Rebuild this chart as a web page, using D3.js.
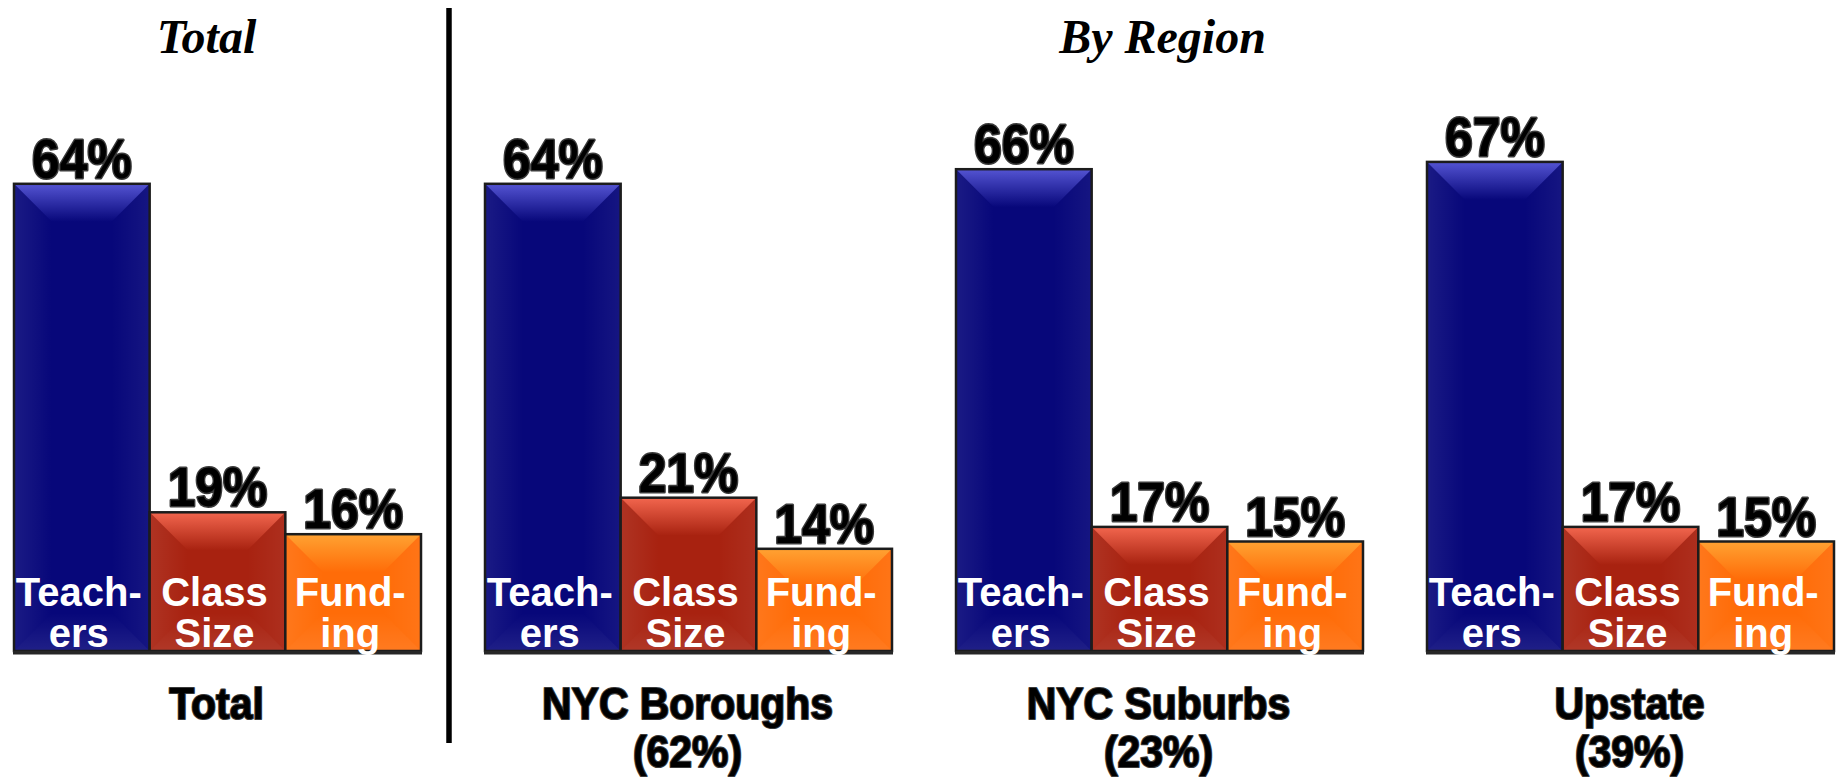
<!DOCTYPE html>
<html>
<head>
<meta charset="utf-8">
<script src="https://cdn.jsdelivr.net/npm/d3@7"></script>
<style>
  html, body { margin: 0; padding: 0; background: #ffffff; }
  svg { display: block; }
</style>
</head>
<body>
<svg id="chart" width="1837" height="777"></svg>
<script>
// ---- data ----
const groups = ["Total", "NYC Boroughs", "NYC Suburbs", "Upstate"];
const groupShares = ["", "(62%)", "(23%)", "(39%)"];
const categories = ["Teachers", "Class Size", "Funding"];
const categoryLines = [["Teach-", "ers"], ["Class", "Size"], ["Fund-", "ing"]];
const teachers = [64, 64, 66, 67];
const classSize = [19, 21, 17, 17];
const funding = [16, 14, 15, 15];
const sectionTitles = ["Total", "By Region"];

const seriesValues = [teachers, classSize, funding];
const baseColors = ["#07077a", "#a82210", "#ff6c08"];
const lightColors = ["#5454d2", "#f2664e", "#ffa232"];

const svg = d3.select("#chart");
const defs = svg.append("defs");

// ---- scales ----
const x0 = d3.scaleBand().domain(groups).range([14, 1834]).paddingInner(64 / 471).paddingOuter(0);
const x1 = d3.scaleBand().domain(categories).range([0, x0.bandwidth()]).padding(0);
const y = d3.scaleLinear().domain([0, 100]).range([651, -79]);

// ---- gradients ----
categories.forEach((c, i) => {
  const g = defs.append("linearGradient").attr("id", "top" + i)
    .attr("x1", 0).attr("y1", 0).attr("x2", 0).attr("y2", 1);
  g.append("stop").attr("offset", "0%").attr("stop-color", lightColors[i]);
  g.append("stop").attr("offset", "100%").attr("stop-color", baseColors[i]);
});
const lg = defs.append("linearGradient").attr("id", "leftG").attr("x1", 0).attr("y1", 0).attr("x2", 1).attr("y2", 0);
lg.append("stop").attr("offset", "0%").attr("stop-color", "#fff").attr("stop-opacity", 0.08);
lg.append("stop").attr("offset", "100%").attr("stop-color", "#fff").attr("stop-opacity", 0);
const rg = defs.append("linearGradient").attr("id", "rightG").attr("x1", 0).attr("y1", 0).attr("x2", 1).attr("y2", 0);
rg.append("stop").attr("offset", "0%").attr("stop-color", "#fff").attr("stop-opacity", 0);
rg.append("stop").attr("offset", "100%").attr("stop-color", "#fff").attr("stop-opacity", 0.06);
const bg = defs.append("linearGradient").attr("id", "botG").attr("x1", 0).attr("y1", 0).attr("x2", 0).attr("y2", 1);
bg.append("stop").attr("offset", "0%").attr("stop-color", "#fff").attr("stop-opacity", 0);
bg.append("stop").attr("offset", "100%").attr("stop-color", "#fff").attr("stop-opacity", 0.10);

// ---- bars ----
const barData = [];
groups.forEach((g, gi) => {
  categories.forEach((c, ci) => {
    barData.push({ group: g, gi, cat: c, ci, value: seriesValues[ci][gi] });
  });
});

const barG = svg.append("g");
barData.forEach(d => {
  const xa = x0(d.group) + x1(d.cat);
  const xb = xa + x1.bandwidth();
  const ya = y(d.value);
  const yb = y(0);
  const b = Math.min(38, (xb - xa) / 2, (yb - ya) / 2);
  const g = barG.append("g");
  g.append("rect").attr("x", xa).attr("y", ya).attr("width", xb - xa).attr("height", yb - ya)
    .attr("fill", baseColors[d.ci]);
  const poly = pts => pts.map(p => p.join(",")).join(" ");
  g.append("polygon").attr("points", poly([[xa, ya], [xb, ya], [xb - b, ya + b], [xa + b, ya + b]]))
    .attr("fill", `url(#top${d.ci})`);
  g.append("polygon").attr("points", poly([[xa, ya], [xa + b, ya + b], [xa + b, yb - b], [xa, yb]]))
    .attr("fill", "url(#leftG)");
  g.append("polygon").attr("points", poly([[xb, ya], [xb - b, ya + b], [xb - b, yb - b], [xb, yb]]))
    .attr("fill", "url(#rightG)");
  g.append("polygon").attr("points", poly([[xa, yb], [xa + b, yb - b], [xb - b, yb - b], [xb, yb]]))
    .attr("fill", "url(#botG)");
  g.append("rect").attr("x", xa).attr("y", ya).attr("width", xb - xa).attr("height", yb - ya)
    .attr("fill", "none").attr("stroke", "#1c1c1c").attr("stroke-width", 2.5);
});

// bottom dark strip per group
groups.forEach(g => {
  svg.append("rect").attr("x", x0(g) - 1).attr("y", y(0)).attr("width", x0.bandwidth() + 2).attr("height", 3.5)
    .attr("fill", "#262626");
});

// ---- value labels ----
const valG = svg.append("g");
barData.forEach(d => {
  const cx = x0(d.group) + x1(d.cat) + x1.bandwidth() / 2;
  valG.append("text")
    .attr("transform", `translate(${cx},${y(d.value) - 6}) scale(0.89,1)`)
    .attr("text-anchor", "middle")
    .attr("font-family", "'Liberation Sans', Arial, sans-serif")
    .attr("font-weight", "bold")
    .attr("font-size", 56)
    .attr("fill", "#000")
    .attr("stroke", "#3a3a3a")
    .attr("stroke-width", 3)
    .attr("stroke-linejoin", "round")
    .attr("paint-order", "stroke")
    .text(d.value + "%");
});

// ---- category labels inside bars ----
const catG = svg.append("g");
barData.forEach(d => {
  const cx = x0(d.group) + x1(d.cat) + x1.bandwidth() / 2 - 3;
  categoryLines[d.ci].forEach((line, li) => {
    catG.append("text")
      .attr("x", cx).attr("y", 606 + li * 41)
      .attr("text-anchor", "middle")
      .attr("font-family", "'Liberation Sans', Arial, sans-serif")
      .attr("font-weight", "bold")
      .attr("font-size", 40)
      .attr("fill", "#fff")
      .text(line);
  });
});

// ---- group labels ----
const grpG = svg.append("g");
groups.forEach((g, gi) => {
  const cx = x0(g) + x0.bandwidth() / 2 - 1;
  const lines = groupShares[gi] ? [g, groupShares[gi]] : [g];
  lines.forEach((line, li) => {
    grpG.append("text")
      .attr("transform", `translate(${cx},${719 + li * 48}) scale(0.93,1)`)
      .attr("text-anchor", "middle")
      .attr("font-family", "'Liberation Sans', Arial, sans-serif")
      .attr("font-weight", "bold")
      .attr("font-size", 44)
      .attr("fill", "#000")
      .attr("stroke", "#3a3a3a")
      .attr("stroke-width", 2.2)
      .attr("stroke-linejoin", "round")
      .attr("paint-order", "stroke")
      .text(line);
  });
});

// ---- section titles ----
const firstCenter = x0(groups[0]) + x0.bandwidth() / 2 - 11;
const regionCenter = (x0(groups[1]) + x0(groups[3]) + x0.bandwidth()) / 2 + 3;
[firstCenter, regionCenter].forEach((cx, i) => {
  svg.append("text")
    .attr("x", cx).attr("y", 53)
    .attr("text-anchor", "middle")
    .attr("font-family", "'Liberation Serif', 'Times New Roman', serif")
    .attr("font-weight", "bold")
    .attr("font-style", "italic")
    .attr("font-size", 48)
    .attr("fill", "#000")
    .text(sectionTitles[i]);
});

// ---- divider ----
const divX = (x0(groups[0]) + x0.bandwidth() + x0(groups[1])) / 2 - 4;
svg.append("line")
  .attr("x1", divX).attr("x2", divX).attr("y1", 8).attr("y2", 743)
  .attr("stroke", "#000").attr("stroke-width", 5.5);
</script>
</body>
</html>
